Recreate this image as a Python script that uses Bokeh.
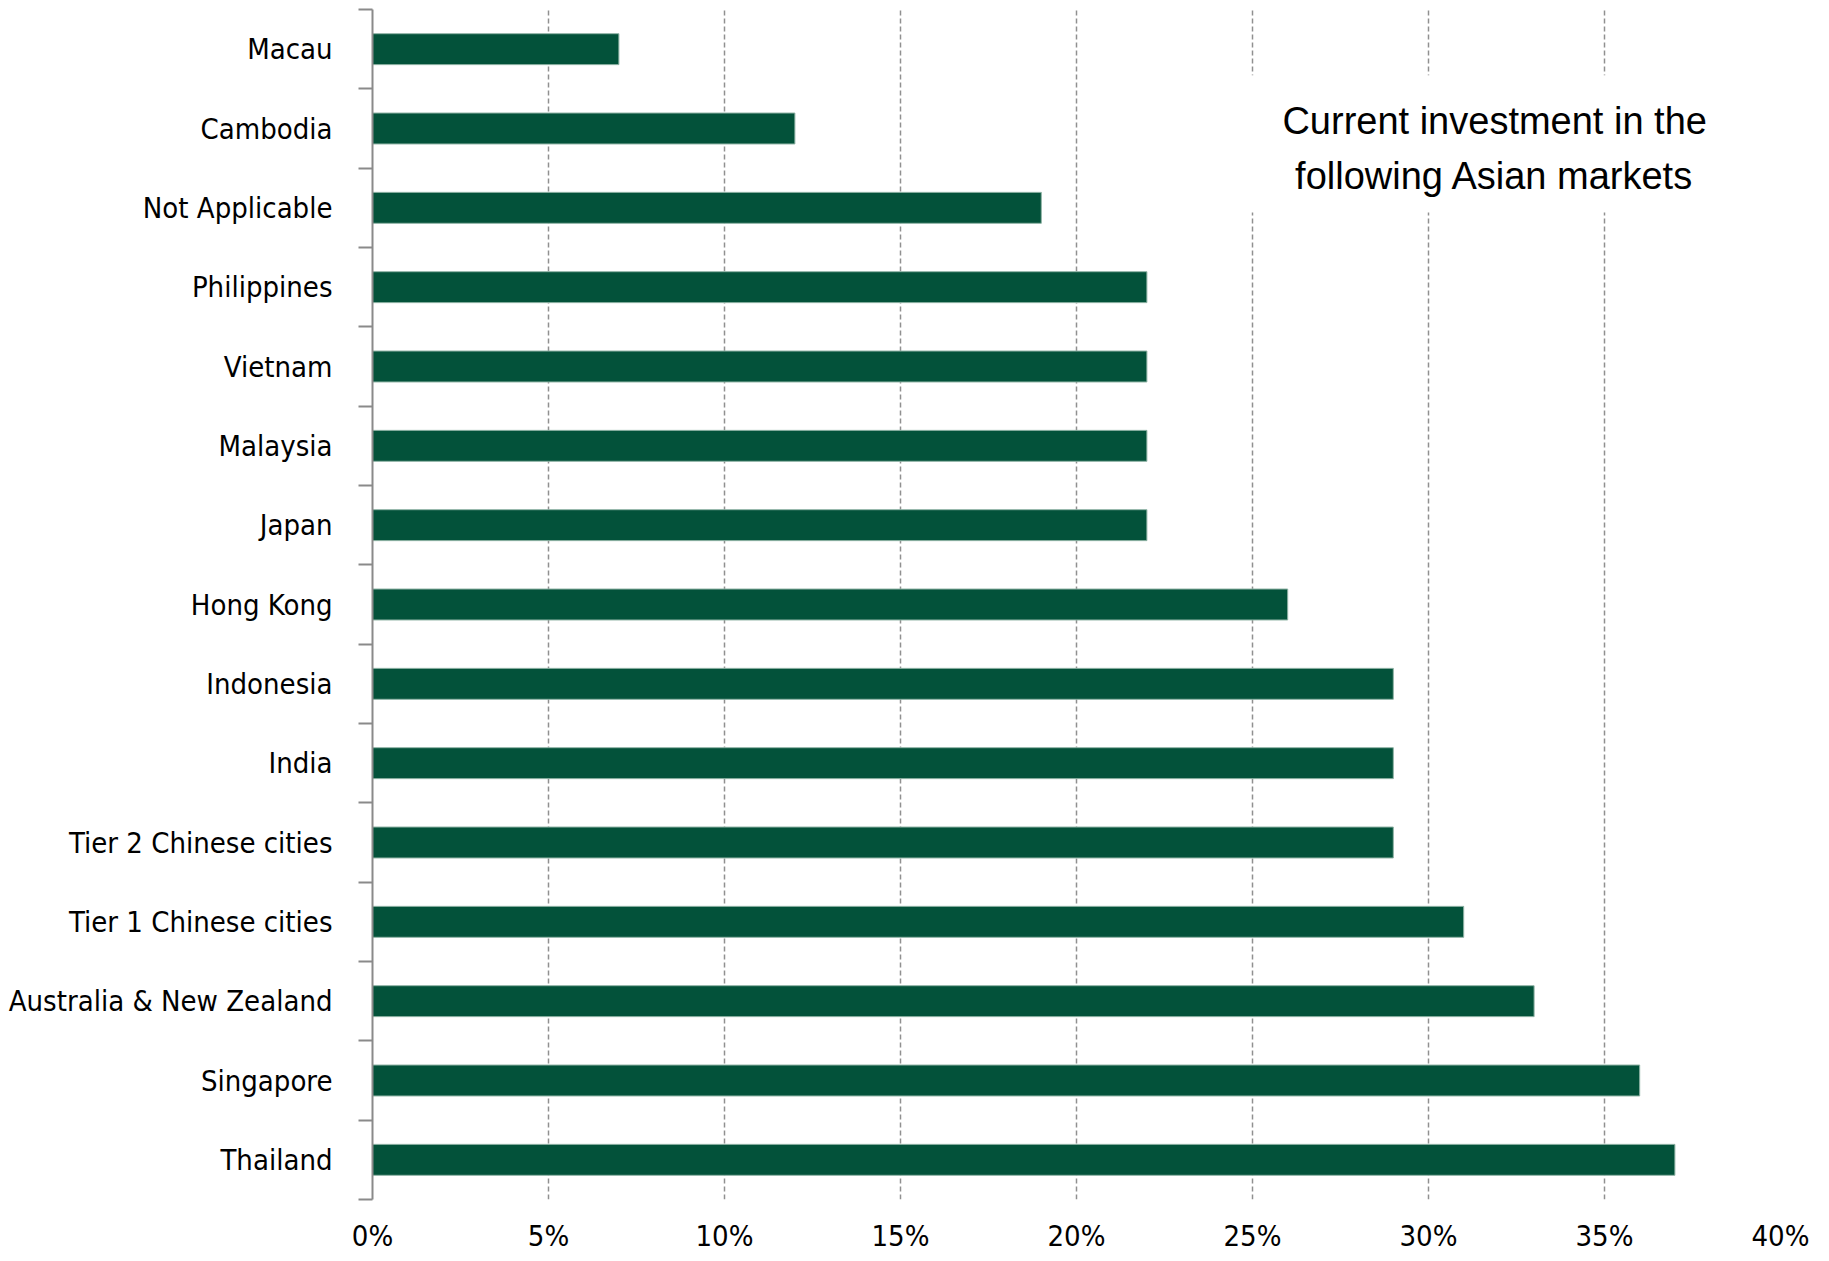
from bokeh.plotting import figure
from bokeh.models import Range1d, FixedTicker, NumeralTickFormatter, Label, BoxAnnotation
from bokeh.embed import file_html
from bokeh.resources import INLINE

# Data (top to bottom as shown)
markets = ["Macau", "Cambodia", "Not Applicable", "Philippines", "Vietnam", "Malaysia",
           "Japan", "Hong Kong", "Indonesia", "India", "Tier 2 Chinese cities",
           "Tier 1 Chinese cities", "Australia & New Zealand", "Singapore", "Thailand"]
shares = [0.07, 0.12, 0.19, 0.22, 0.22, 0.22, 0.22, 0.26, 0.29, 0.29, 0.29,
          0.31, 0.33, 0.36, 0.37]
x_ticks = [0.0, 0.05, 0.10, 0.15, 0.20, 0.25, 0.30, 0.35, 0.40]
title_text = "Current investment in the\nfollowing Asian markets"

n = len(markets)
# bottom-up positions: last item at the bottom
ypos = [n - 1 - i + 0.5 for i in range(n)]

LABEL_FONT = "DejaVu Sans Condensed"
TITLE_FONT = "Liberation Sans"

p = figure(width=1829, height=1261, output_backend="svg", toolbar_location=None,
           x_range=Range1d(0, 0.40), y_range=Range1d(0, n),
           min_border_left=372, min_border_right=49, min_border_top=9, min_border_bottom=62)
p.outline_line_color = None
p.background_fill_color = "white"

p.hbar(y=ypos, right=shares, left=0, height=0.39, fill_color="#03523A",
       line_color="#8fb3a5", line_width=1)

# x axis
p.xaxis.ticker = FixedTicker(ticks=x_ticks)
p.xaxis.formatter = NumeralTickFormatter(format="0%")
p.xaxis.axis_line_color = None
p.xaxis.major_tick_line_color = None
p.xaxis.minor_tick_line_color = None
p.xaxis.major_tick_out = 0
p.xaxis.major_tick_in = 0
p.xaxis.minor_tick_out = 0
p.xaxis.minor_tick_in = 0
p.xaxis.major_label_standoff = 19
p.xaxis.major_label_text_font = LABEL_FONT
p.xaxis.major_label_text_font_size = "29px"
p.xaxis.major_label_text_color = "black"

# y axis
p.yaxis.ticker = FixedTicker(ticks=ypos, minor_ticks=list(range(n + 1)))
p.yaxis.major_label_overrides = {y: m for y, m in zip(ypos, markets)}
p.yaxis.axis_line_color = "#8a8a8a"
p.yaxis.axis_line_width = 2
p.yaxis.major_tick_line_color = None
p.yaxis.major_tick_out = 0
p.yaxis.major_tick_in = 0
p.yaxis.minor_tick_line_color = "#8a8a8a"
p.yaxis.minor_tick_line_width = 2
p.yaxis.minor_tick_out = 14
p.yaxis.minor_tick_in = 0
p.yaxis.major_label_standoff = 26
p.yaxis.major_label_text_font = LABEL_FONT
p.yaxis.major_label_text_font_size = "29px"
p.yaxis.major_label_text_color = "black"

# grids
p.ygrid.grid_line_color = None
p.xgrid.ticker = FixedTicker(ticks=x_ticks[1:])
p.xgrid.grid_line_color = "#909090"
p.xgrid.grid_line_dash = "5 3"
p.xgrid.grid_line_width = 1.5

# title box
box = BoxAnnotation(left=0.245, right=0.39, bottom=12.44, top=14.17,
                    fill_color="white", fill_alpha=1.0, line_color=None)
p.add_layout(box)
lbl = Label(x=0.3188, y=13.25, text=title_text, text_align="center",
            text_baseline="middle", text_font=TITLE_FONT, text_font_size="38px",
            text_color="black", text_line_height=1.31)
p.add_layout(lbl)

open("out.html", "w").write(file_html(p, INLINE))
